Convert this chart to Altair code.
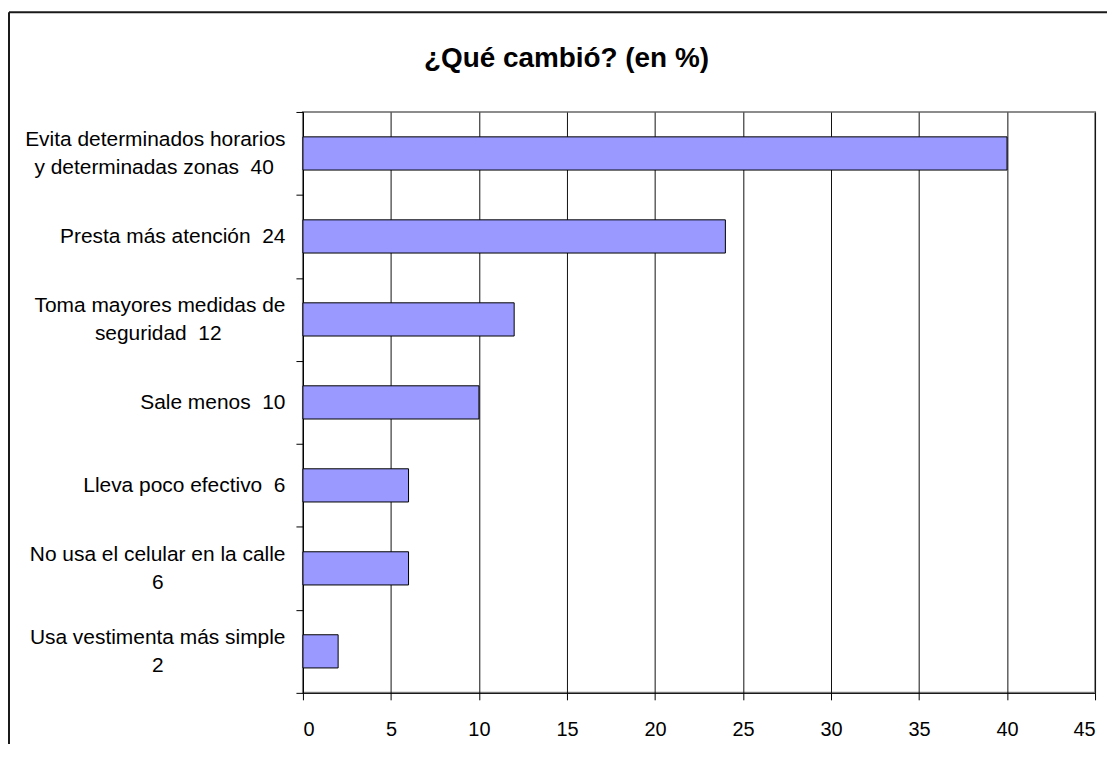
import altair as alt
import pandas as pd

# ---- data ----
title_text = "¿Qué cambió? (en %)"
categories = [
    "Evita determinados horarios\ny determinadas zonas",
    "Presta más atención",
    "Toma mayores medidas de\nseguridad",
    "Sale menos",
    "Lleva poco efectivo",
    "No usa el celular en la calle\n",
    "Usa vestimenta más simple\n",
]
values = [40, 24, 12, 10, 6, 6, 2]
x_ticks = [0, 5, 10, 15, 20, 25, 30, 35, 40, 45]

# ---- helpers to centre multi-line labels (approximate Arial advance widths) ----
NBSP = "\u00a0"
ZW = "\u200b"  # keeps trailing padding from being trimmed
ADV = {' ': 278, NBSP: 278, 'a': 556, 'b': 556, 'c': 500, 'd': 556, 'e': 556, 'f': 278,
       'g': 556, 'h': 556, 'i': 222, 'j': 222, 'k': 500, 'l': 222, 'm': 833, 'n': 556,
       'o': 556, 'p': 556, 'q': 556, 'r': 333, 's': 500, 't': 278, 'u': 556, 'v': 500,
       'w': 722, 'x': 500, 'y': 500, 'z': 500, 'á': 556, 'é': 556, 'ó': 556, 'E': 667,
       'L': 556, 'N': 722, 'P': 667, 'S': 667, 'T': 611, 'U': 722}


def text_width(s):
    return sum(ADV.get(ch, 556) for ch in s)


def make_label(cat, val):
    if cat.endswith("\n"):
        raw = cat + str(val)
    else:
        raw = cat + NBSP + NBSP + str(val)
    lines = raw.split("\n")
    widest = max(text_width(l) for l in lines)
    out = []
    for l in lines:
        pad = int(round((widest - text_width(l)) / 2 / 278))
        out.append(l + (NBSP * pad + ZW if pad > 0 else ""))
    return "\n".join(out)


labels = [make_label(c, v) for c, v in zip(categories, values)]
df = pd.DataFrame({"label": labels, "value": values})

FONT = "Liberation Sans"
LINE_H = 28

bars = alt.Chart(df).mark_bar(
    color="#9999FF", stroke="#000000", strokeWidth=1, height={"band": 0.4}
).encode(
    x=alt.X(
        "value:Q",
        scale=alt.Scale(domain=[0, 45], nice=False, zero=True),
        axis=alt.Axis(
            values=x_ticks, title=None, grid=True, gridColor="#111111", gridWidth=1,
            tickSize=7, labelPadding=20, labelFontSize=20, labelFont=FONT,
            labelColor="#000000", labelAngle=0, format="d",
            domainColor="#000000", tickColor="#000000",
        ),
    ),
    y=alt.Y(
        "label:N",
        sort=labels,
        scale=alt.Scale(paddingInner=0, paddingOuter=0),
        axis=alt.Axis(
            title=None, grid=False, tickBand="extent", tickSize=7, labelPadding=11,
            labelFontSize=21, labelFont=FONT, labelColor="#000000",
            labelLineHeight=LINE_H, labelLimit=600,
            labelExpr="split(datum.label, '\\n')",
            labelOffset={
                "condition": {"test": "indexof(datum.label, '\\n') >= 0",
                              "value": -LINE_H / 2},
                "value": 0,
            },
            domainColor="#000000", tickColor="#000000",
        ),
    ),
)

title = alt.Chart(pd.DataFrame({"t": [title_text]})).mark_text(
    font=FONT, fontSize=28, fontWeight="bold", color="#000000",
    align="center", baseline="alphabetic",
).encode(text="t:N", x=alt.value(264.5), y=alt.value(-45))

frame_top = alt.Chart(pd.DataFrame({"k": [0]})).mark_rule(
    color="#1a1a1a", strokeWidth=2
).encode(x=alt.value(-295), x2=alt.value(900), y=alt.value(-100))

frame_left = alt.Chart(pd.DataFrame({"k": [0]})).mark_rule(
    color="#1a1a1a", strokeWidth=2
).encode(x=alt.value(-295), y=alt.value(-100), y2=alt.value(700))

chart = alt.layer(bars, title, frame_top, frame_left).properties(
    width=795,
    height=583,
    autosize=alt.AutoSizeParams(type="none"),
    padding={"left": 296, "top": 103, "right": 12, "bottom": 50},
    background="#ffffff",
).configure_view(
    stroke="#8c8c8c", strokeWidth=2
)

chart.save("out.html", embed_options={"renderer": "svg", "actions": False})
